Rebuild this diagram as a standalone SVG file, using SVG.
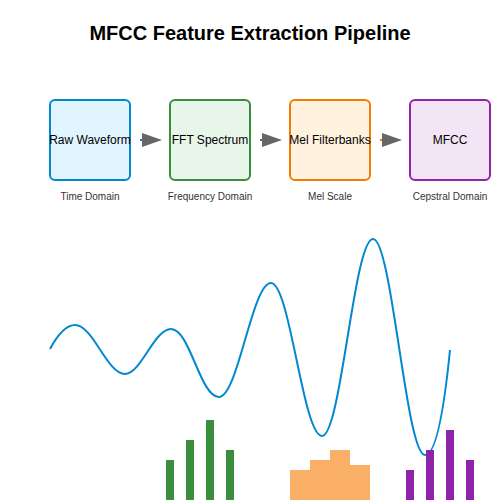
<svg xmlns="http://www.w3.org/2000/svg" width="500" height="500" viewBox="0 0 500 500">
<style>
text{font-family:"Liberation Sans",Arial,sans-serif}
.title{font-size:20px;font-weight:bold;fill:#000}
.lbl{font-size:12px;fill:#000}
.sub{font-size:10px;fill:#333}
.box{stroke-width:2}
.arrow{fill:#666}
</style>
<rect width="500" height="500" fill="#fff"/>
<text class="title" x="250" y="40" text-anchor="middle">MFCC Feature Extraction Pipeline</text>
<g id="node-raw">
<rect class="box" x="50" y="100" width="80" height="80" rx="5" fill="#e1f5fe" stroke="#0288d1"/>
<text class="lbl" x="90" y="144" text-anchor="middle">Raw Waveform</text>
<text class="sub" x="90" y="200" text-anchor="middle">Time Domain</text>
</g>
<g id="node-fft">
<rect class="box" x="170" y="100" width="80" height="80" rx="5" fill="#e8f5e9" stroke="#388e3c"/>
<text class="lbl" x="210" y="144" text-anchor="middle">FFT Spectrum</text>
<text class="sub" x="210" y="200" text-anchor="middle">Frequency Domain</text>
</g>
<g id="node-mel">
<rect class="box" x="290" y="100" width="80" height="80" rx="5" fill="#fff3e0" stroke="#f57c00"/>
<text class="lbl" x="330" y="144" text-anchor="middle">Mel Filterbanks</text>
<text class="sub" x="330" y="200" text-anchor="middle">Mel Scale</text>
</g>
<g id="node-mfcc">
<rect class="box" x="410" y="100" width="80" height="80" rx="5" fill="#f3e5f5" stroke="#8e24aa"/>
<text class="lbl" x="450" y="144" text-anchor="middle">MFCC</text>
<text class="sub" x="450" y="200" text-anchor="middle">Cepstral Domain</text>
</g>
<g id="connectors">
<line x1="140" y1="140" x2="150" y2="140" stroke="#0288d1" stroke-width="2"/>
<polygon class="arrow" points="142,133 162,140 142,147"/>
<line x1="260" y1="140" x2="270" y2="140" stroke="#388e3c" stroke-width="2"/>
<polygon class="arrow" points="262,133 282,140 262,147"/>
<line x1="380" y1="140" x2="390" y2="140" stroke="#f57c00" stroke-width="2"/>
<polygon class="arrow" points="382,133 402,140 382,147"/>
</g>
<path d="M50,349 C57,336 65,325 75,325 C93,325 107,374 125,374 C141,374 154,329 171,329 C190,329 200,397 219,397 C238,397 252,283 271,283 C290,283 303,436 322,436 C341,436 354,239 373,239 C392,239 406,455 425,455 C438,455 446,390 450,350" fill="none" stroke="#0288d1" stroke-width="2"/>
<g fill="#388e3c">
<rect x="166" y="460" width="8" height="40"/>
<rect x="186" y="440" width="8" height="60"/>
<rect x="206" y="420" width="8" height="80"/>
<rect x="226" y="450" width="8" height="50"/>
</g>
<g fill="#f57c00" fill-opacity="0.6">
<rect x="290" y="470" width="20" height="30"/>
<rect x="310" y="460" width="20" height="40"/>
<rect x="330" y="450" width="20" height="50"/>
<rect x="350" y="465" width="20" height="35"/>
</g>
<g fill="#8e24aa">
<rect x="406" y="470" width="8" height="30"/>
<rect x="426" y="450" width="8" height="50"/>
<rect x="446" y="430" width="8" height="70"/>
<rect x="466" y="460" width="8" height="40"/>
</g>
</svg>
